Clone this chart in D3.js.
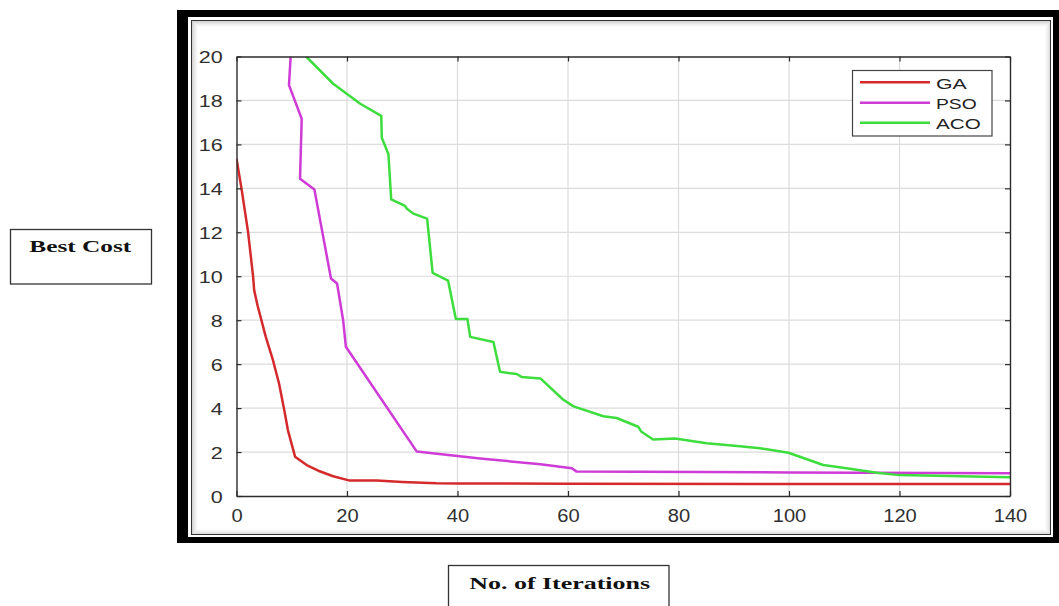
<!DOCTYPE html>
<html>
<head>
<meta charset="utf-8">
<script src="https://cdn.jsdelivr.net/npm/d3@7"></script>
<style>
  html, body { margin: 0; padding: 0; background: #ffffff; }
  svg { display: block; }
</style>
</head>
<body>
<svg id="chart" width="1059" height="606"></svg>
<script>
// ---- data ----
const xTicks = [0, 20, 40, 60, 80, 100, 120, 140];
const yTicks = [0, 2, 4, 6, 8, 10, 12, 14, 16, 18, 20];

const seriesNames = ["GA", "PSO", "ACO"];

const gaX = [0, 0.9, 2.1, 3.0, 3.2, 3.8, 5.3, 6.6, 7.7, 8.65, 9.3, 10.6, 12.7, 14.8, 17.5, 20.5, 25.4, 30, 36.2, 40, 60, 100, 140];
const gaY = [15.35, 14.0, 12.0, 10.0, 9.36, 8.68, 7.24, 6.18, 5.12, 3.9, 3.0, 1.79, 1.41, 1.15, 0.9, 0.7, 0.7, 0.64, 0.58, 0.57, 0.56, 0.55, 0.55];

const psoX = [9.8, 9.5, 11.8, 11.5, 14.1, 17.1, 18.2, 19.3, 19.8, 32.6, 44.1, 55, 60.7, 61.5, 100, 140];
const psoY = [20, 18.7, 17.17, 14.44, 13.95, 9.9, 9.67, 8.0, 6.79, 2.03, 1.71, 1.44, 1.26, 1.12, 1.07, 1.03];

const acoX = [12.6, 17.5, 22.4, 26.2, 26.3, 27.5, 28.0, 30.5, 30.8, 32.0, 34.5, 35.5, 38.3, 39.7, 41.8, 42.3, 46.5, 47.7, 50.7, 51.6, 55.0, 59.1, 61.0, 66.4, 68.8, 72.7, 73.3, 75.4, 79.4, 85.1, 91.1, 94.8, 99.9, 106.2, 110.4, 115.9, 120, 140];
const acoY = [20, 18.76, 17.85, 17.3, 16.3, 15.55, 13.5, 13.2, 13.08, 12.85, 12.62, 10.15, 9.8, 8.05, 8.05, 7.24, 7.01, 5.65, 5.55, 5.42, 5.35, 4.39, 4.08, 3.63, 3.55, 3.15, 2.92, 2.57, 2.62, 2.4, 2.26, 2.17, 1.97, 1.41, 1.26, 1.06, 0.95, 0.85];

const yLabelText = "Best Cost";
const xLabelText = "No. of Iterations";

// ---- layout ----
const svg = d3.select("#chart");
const plot = { left: 236.5, right: 1010, top: 56.5, bottom: 496 };
const x = d3.scaleLinear().domain([0, 140]).range([plot.left, plot.right]);
const y = d3.scaleLinear().domain([0, 20]).range([plot.bottom, plot.top]);

const colors = { GA: "#d42a2c", PSO: "#cf3bd6", ACO: "#3edd3e" };
const series = [
  { name: "GA", xs: gaX, ys: gaY },
  { name: "PSO", xs: psoX, ys: psoY },
  { name: "ACO", xs: acoX, ys: acoY }
];

// ---- outer picture frame ----
svg.append("rect").attr("x", 177).attr("y", 10).attr("width", 890).attr("height", 533).attr("fill", "#000");
svg.append("rect").attr("x", 188).attr("y", 17).attr("width", 865).attr("height", 520).attr("fill", "#fff");
// soft inner shadow
const shadeSteps = [0.34, 0.26, 0.19, 0.13, 0.08, 0.04];
shadeSteps.forEach((op, i) => {
  svg.append("rect")
    .attr("x", 192.5 + i).attr("y", 21.5 + i)
    .attr("width", 1050.5 - 192.5 - 2 * i).attr("height", 534.5 - 21.5 - 2 * i)
    .attr("fill", "none").attr("stroke", "#808080").attr("stroke-opacity", op);
});
svg.append("rect").attr("x", 191.5).attr("y", 20.5).attr("width", 859).attr("height", 514)
  .attr("fill", "none").attr("stroke", "#333").attr("stroke-width", 1);

// ---- grid ----
const grid = svg.append("g").attr("stroke", "#dcdcdc").attr("stroke-width", 1.2);
xTicks.forEach(t => {
  if (t === 0 || t === 140) return;
  grid.append("line").attr("x1", x(t)).attr("x2", x(t)).attr("y1", plot.top).attr("y2", plot.bottom);
});
yTicks.forEach(t => {
  if (t === 0 || t === 20) return;
  grid.append("line").attr("x1", plot.left).attr("x2", plot.right).attr("y1", y(t)).attr("y2", y(t));
});

// ---- lines ----
svg.append("clipPath").attr("id", "clip").append("rect")
  .attr("x", plot.left).attr("y", plot.top).attr("width", plot.right - plot.left).attr("height", plot.bottom - plot.top);
const line = d3.line().x(d => x(d[0])).y(d => y(d[1]));
const lines = svg.append("g").attr("clip-path", "url(#clip)");
series.forEach(s => {
  const pts = s.xs.map((v, i) => [v, s.ys[i]]);
  lines.append("path").datum(pts).attr("d", line)
    .attr("fill", "none").attr("stroke", colors[s.name]).attr("stroke-width", 2.5)
    .attr("stroke-linejoin", "round");
});

// ---- axes (box with inward ticks) ----
const axColor = "#2b2b2b";
function styleAxis(g) {
  g.selectAll("path.domain").attr("stroke", axColor).attr("stroke-width", 1.4);
  g.selectAll(".tick line").attr("stroke", axColor).attr("stroke-width", 1.2);
}
const gB = svg.append("g").attr("transform", `translate(0,${plot.bottom})`)
  .call(d3.axisBottom(x).tickValues(xTicks).tickSize(-5).tickSizeOuter(0));
const gT = svg.append("g").attr("transform", `translate(0,${plot.top})`)
  .call(d3.axisTop(x).tickValues(xTicks).tickSize(-5).tickSizeOuter(0).tickFormat(""));
const gL = svg.append("g").attr("transform", `translate(${plot.left},0)`)
  .call(d3.axisLeft(y).tickValues(yTicks).tickSize(-5).tickSizeOuter(0));
const gR = svg.append("g").attr("transform", `translate(${plot.right},0)`)
  .call(d3.axisRight(y).tickValues(yTicks).tickSize(-5).tickSizeOuter(0).tickFormat(""));
[gB, gT, gL, gR].forEach(styleAxis);

gB.selectAll(".tick text")
  .attr("y", 25.7).attr("dy", 0)
  .attr("fill", "#303030").attr("font-family", "Liberation Sans, Arial, sans-serif").attr("font-size", 18)
  .attr("textLength", d => String(d).length * 11.2).attr("lengthAdjust", "spacingAndGlyphs");
gL.selectAll(".tick text")
  .attr("x", -13.8).attr("dy", 6.2)
  .attr("fill", "#303030").attr("font-family", "Liberation Sans, Arial, sans-serif").attr("font-size", 17)
  .attr("textLength", d => String(d).length * 12).attr("lengthAdjust", "spacingAndGlyphs");

// ---- legend ----
const legend = svg.append("g");
legend.append("rect").attr("x", 852.5).attr("y", 70.5).attr("width", 139.5).attr("height", 65.5)
  .attr("fill", "#fff").attr("stroke", "#444").attr("stroke-width", 1.2);
const legendRowY = [82.3, 102.7, 122.7];
const legendTextW = { GA: 30.7, PSO: 40.7, ACO: 44.7 };
seriesNames.forEach((n, i) => {
  legend.append("line").attr("x1", 860).attr("x2", 930).attr("y1", legendRowY[i]).attr("y2", legendRowY[i])
    .attr("stroke", colors[n]).attr("stroke-width", 2.4);
  legend.append("text").attr("x", 936).attr("y", legendRowY[i] + 6.6)
    .attr("font-family", "Liberation Sans, Arial, sans-serif").attr("font-size", 15.5).attr("fill", "#222")
    .attr("textLength", legendTextW[n]).attr("lengthAdjust", "spacingAndGlyphs")
    .text(n);
});

// ---- boxed axis titles ----
svg.append("rect").attr("x", 10.5).attr("y", 229.5).attr("width", 141).attr("height", 54.5)
  .attr("fill", "#fff").attr("stroke", "#333").attr("stroke-width", 1.3);
svg.append("text").attr("x", 29.3).attr("y", 252.3)
  .attr("font-family", "Liberation Serif, Times New Roman, serif").attr("font-weight", "bold")
  .attr("font-size", 17.6).attr("fill", "#111")
  .attr("textLength", 102).attr("lengthAdjust", "spacingAndGlyphs")
  .text(yLabelText);

svg.append("rect").attr("x", 448.5).attr("y", 565.5).attr("width", 220.5).attr("height", 60)
  .attr("fill", "#fff").attr("stroke", "#333").attr("stroke-width", 1.3);
svg.append("text").attr("x", 469.3).attr("y", 589)
  .attr("font-family", "Liberation Serif, Times New Roman, serif").attr("font-weight", "bold")
  .attr("font-size", 16.5).attr("fill", "#111")
  .attr("textLength", 180.7).attr("lengthAdjust", "spacingAndGlyphs")
  .text(xLabelText);
</script>
</body>
</html>
